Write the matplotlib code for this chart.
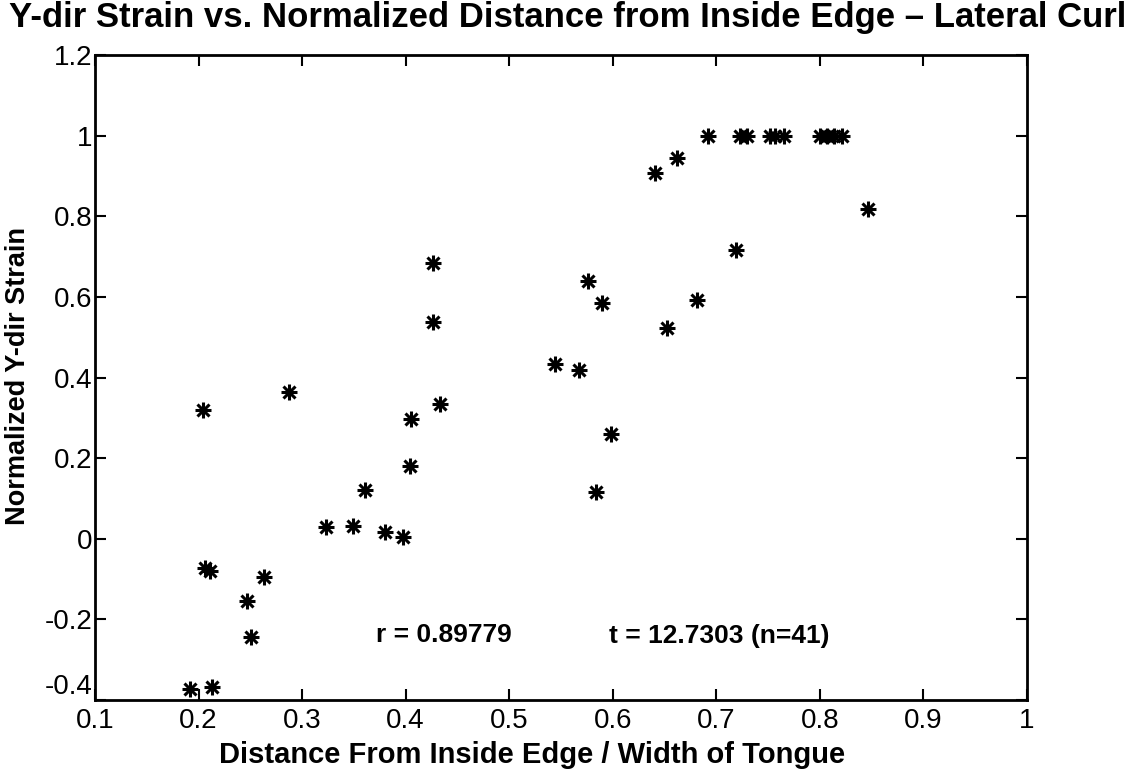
import matplotlib
matplotlib.use("Agg")
import matplotlib.pyplot as plt

# Data
x_vals = [0.204, 0.287, 0.426, 0.433, 0.405, 0.404, 0.361, 0.323, 0.349, 0.380,
          0.397, 0.206, 0.211, 0.263, 0.247, 0.251, 0.192, 0.213, 0.426, 0.576,
          0.590, 0.544, 0.567, 0.598, 0.584, 0.662, 0.641, 0.846, 0.719, 0.681,
          0.652, 0.692, 0.723, 0.730, 0.752, 0.757, 0.765, 0.800, 0.807, 0.814,
          0.821]
y_vals = [0.320, 0.365, 0.538, 0.335, 0.298, 0.181, 0.122, 0.030, 0.032, 0.017,
          0.005, -0.072, -0.079, -0.094, -0.154, -0.243, -0.372, -0.367, 0.685, 0.640,
          0.586, 0.434, 0.419, 0.261, 0.117, 0.945, 0.908, 0.819, 0.717, 0.593,
          0.524, 1.0, 1.0, 1.0, 1.0, 1.0, 1.0, 1.0, 1.0, 1.0,
          1.0]

x_ticks = [0.1, 0.2, 0.3, 0.4, 0.5, 0.6, 0.7, 0.8, 0.9, 1.0]
x_tick_labels = ["0.1", "0.2", "0.3", "0.4", "0.5", "0.6", "0.7", "0.8", "0.9", "1"]
y_ticks = [-0.4, -0.2, 0.0, 0.2, 0.4, 0.6, 0.8, 1.0, 1.2]
y_tick_labels = ["-0.4", "-0.2", "0", "0.2", "0.4", "0.6", "0.8", "1", "1.2"]

title_text = "Y-dir Strain vs. Normalized Distance from Inside Edge \u2013 Lateral Curl"
x_label = "Distance From Inside Edge / Width of Tongue"
y_label = "Normalized Y-dir Strain"
r_text = "r = 0.89779"
t_text = "t = 12.7303 (n=41)"

plt.rcParams['font.family'] = ['Liberation Sans', 'DejaVu Sans']

W, H = 1135, 774
fig = plt.figure(figsize=(W / 100, H / 100), dpi=100)
ax = fig.add_axes([95 / W, 1 - 700 / H, (1027 - 95) / W, (700 - 55) / H])

# MATLAB-style asterisk marker: plus + cross overlaid
ax.plot(x_vals, y_vals, linestyle='none', marker='+', markersize=12,
        markeredgewidth=2.2, color='black')
ax.plot(x_vals, y_vals, linestyle='none', marker='x', markersize=9,
        markeredgewidth=2.2, color='black')

ax.set_xlim(0.1, 1.0)
ax.set_ylim(-0.4, 1.2)
ax.set_xticks(x_ticks)
ax.set_xticklabels(x_tick_labels)
ax.set_yticks(y_ticks)
ax.set_yticklabels(y_tick_labels)
ax.tick_params(direction='in', length=8, width=1.5, top=True, right=True,
               labelsize=20)
ax.tick_params(axis='x', pad=6)
ax.tick_params(axis='y', pad=2)
for lbl in ax.get_yticklabels():
    if lbl.get_text() == "-0.4":
        lbl.set_verticalalignment('bottom')
for s in ax.spines.values():
    s.set_linewidth(2)

ax.text(0.371, -0.24, r_text, fontsize=19, fontweight='bold', va='center', ha='left')
ax.text(0.596, -0.24, t_text, fontsize=19, fontweight='bold', va='center', ha='left')

fig.text(568 / W, 1 - 17 / H, title_text, fontsize=25, fontweight='bold',
         ha='center', va='center')
fig.text(532 / W, 1 - 755 / H, x_label, fontsize=21, fontweight='bold',
         ha='center', va='center')
fig.text(18 / W, 1 - 376 / H, y_label, fontsize=19.5, fontweight='bold',
         ha='center', va='center', rotation=90)

fig.savefig("out.png", dpi=100)
